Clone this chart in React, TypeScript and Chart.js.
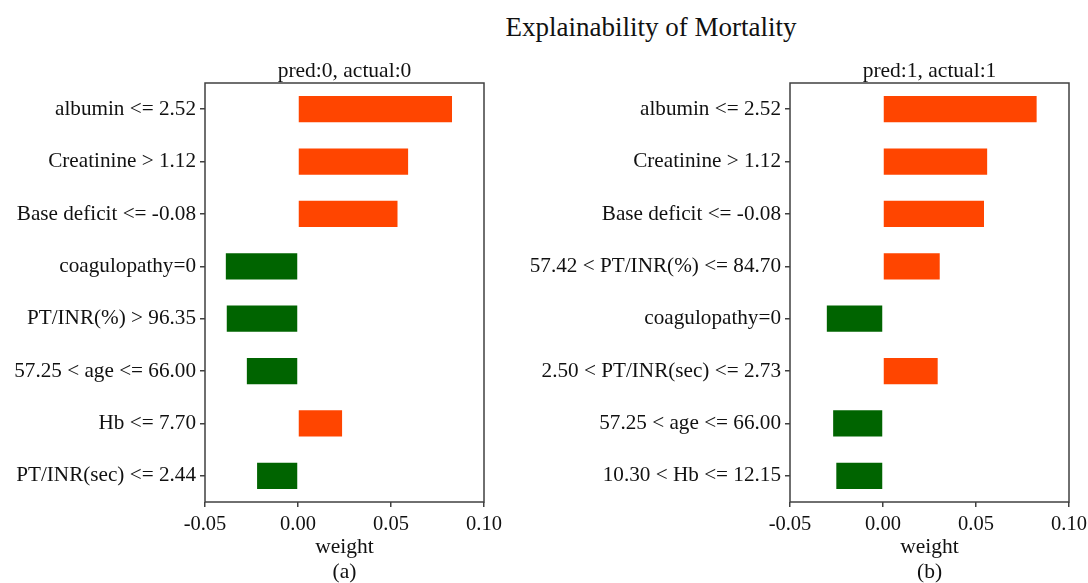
import React, { useEffect, useRef } from "react";
import { Chart, registerables } from "chart.js";

Chart.register(...registerables);

const FIG_TITLE = "Explainability of Mortality";

const leftTitle = "pred:0, actual:0";
const leftLabels = [
  "albumin <= 2.52",
  "Creatinine > 1.12",
  "Base deficit <= -0.08",
  "coagulopathy=0",
  "PT/INR(%) > 96.35",
  "57.25 < age <= 66.00",
  "Hb <= 7.70",
  "PT/INR(sec) <= 2.44",
];
const leftWeights = [0.0828, 0.0592, 0.0535, -0.0388, -0.0383, -0.0275, 0.0237, -0.022];

const rightTitle = "pred:1, actual:1";
const rightLabels = [
  "albumin <= 2.52",
  "Creatinine > 1.12",
  "Base deficit <= -0.08",
  "57.42 < PT/INR(%) <= 84.70",
  "coagulopathy=0",
  "2.50 < PT/INR(sec) <= 2.73",
  "57.25 < age <= 66.00",
  "10.30 < Hb <= 12.15",
];
const rightWeights = [0.0826, 0.056, 0.0543, 0.0305, -0.0302, 0.0294, -0.0268, -0.0251];

const xTickValues = [-0.05, 0.0, 0.05, 0.1];
const xLabel = "weight";

const POS_COLOR = "#FF4500";
const NEG_COLOR = "#006400";
const AXIS_COLOR = "#404040";
const FONT = "'Liberation Serif', 'DejaVu Serif', serif";

const framePlugin = {
  id: "frame",
  afterDraw(chart: any) {
    const { ctx, chartArea } = chart;
    ctx.save();
    ctx.strokeStyle = AXIS_COLOR;
    ctx.lineWidth = 1.5;
    ctx.strokeRect(chartArea.left, chartArea.top, chartArea.right - chartArea.left, chartArea.bottom - chartArea.top);
    ctx.restore();
  },
};

function Panel(props: {
  labels: string[];
  weights: number[];
  title: string;
  sub: string;
  yWidth: number;
  padRight: number;
  left: number;
  width: number;
}) {
  const ref = useRef<HTMLCanvasElement>(null);
  useEffect(() => {
    if (!ref.current) return;
    const chart = new Chart(ref.current, {
      type: "bar",
      data: {
        labels: props.labels,
        datasets: [
          {
            data: props.weights,
            backgroundColor: props.weights.map((w) => (w >= 0 ? POS_COLOR : NEG_COLOR)),
            borderWidth: 0,
            categoryPercentage: 1,
            barPercentage: 0.5,
          },
        ],
      },
      options: {
        indexAxis: "y",
        responsive: false,
        animation: false,
        layout: { padding: { top: 59, left: 0, right: props.padRight, bottom: 0 } },
        plugins: {
          legend: { display: false },
          tooltip: { enabled: false },
          title: {
            display: true,
            text: props.title,
            fullSize: false,
            color: "#111",
            font: { family: FONT, size: 21.5, weight: "normal", lineHeight: 24 / 21.5 },
            padding: { top: 0, bottom: 0 },
          },
        },
        scales: {
          x: {
            type: "linear",
            min: -0.05,
            max: 0.1,
            afterBuildTicks: (scale: any) => {
              scale.ticks = xTickValues.map((v) => ({ value: v }));
            },
            ticks: {
              color: "#111",
              font: { family: FONT, size: 20.5 },
              padding: 5,
              maxRotation: 0,
              callback: (v: any) => Number(v).toFixed(2),
            },
            grid: {
              display: true,
              drawOnChartArea: false,
              drawTicks: true,
              tickLength: 5,
              color: AXIS_COLOR,
              lineWidth: 1.5,
            },
            border: { display: false },
            title: {
              display: true,
              text: [xLabel, props.sub],
              color: "#111",
              font: { family: FONT, size: 21.5, lineHeight: 25 / 21.5 },
              padding: { top: 0, bottom: -2 },
            },
            afterFit: (scale: any) => {
              scale.height = 81;
              scale.paddingLeft = 0;
              scale.paddingRight = 0;
            },
          },
          y: {
            type: "category",
            offset: true,
            ticks: {
              color: "#111",
              font: { family: FONT, size: 21.2 },
              padding: 4,
              autoSkip: false,
            },
            grid: {
              display: true,
              offset: false,
              drawOnChartArea: false,
              drawTicks: true,
              tickLength: 5,
              color: AXIS_COLOR,
              lineWidth: 1.5,
            },
            border: { display: false },
            afterFit: (scale: any) => {
              scale.width = props.yWidth;
              scale.paddingTop = 0;
              scale.paddingBottom = 0;
            },
          },
        },
      } as any,
      plugins: [framePlugin],
    });
    return () => chart.destroy();
  }, []);
  return (
    <canvas
      ref={ref}
      width={props.width}
      height={583}
      style={{ position: "absolute", left: props.left, top: 0, width: props.width, height: 583, display: "block" }}
    />
  );
}

export default function App() {
  return (
    <div
      style={{
        position: "absolute",
        left: 0,
        top: 0,
        width: 1088,
        height: 583,
        background: "#fff",
        overflow: "hidden",
      }}
    >
      <div
        style={{
          position: "absolute",
          left: 451,
          width: 400,
          top: 11,
          textAlign: "center",
          fontFamily: FONT,
          fontSize: 27,
          lineHeight: "32px",
          color: "#111",
        }}
      >
        {FIG_TITLE}
      </div>
      <Panel labels={leftLabels} weights={leftWeights} title={leftTitle} sub="(a)" yWidth={205} padRight={60} left={0} width={544} />
      <Panel labels={rightLabels} weights={rightWeights} title={rightTitle} sub="(b)" yWidth={310} padRight={19} left={480} width={608} />
    </div>
  );
}
